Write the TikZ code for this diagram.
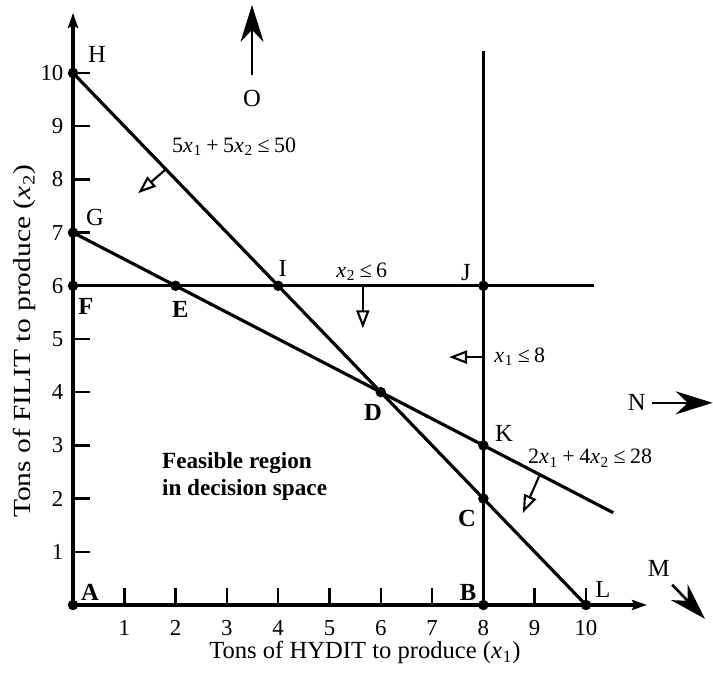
\documentclass[tikz,border=0pt]{standalone}
\usepackage{fontspec}
\setmainfont{Liberation Serif}
\usepackage{graphicx}
\usetikzlibrary{arrows.meta}
\newcommand\xv[1]{\textit{x}\kern0.03em\textsubscript{#1}}
\newcommand\gsp{\hspace{0.2em}}
\begin{document}
\begin{tikzpicture}[x=1.026cm,y=1.064cm,
  ln/.style={line width=1.8pt},
  dot/.style={circle,fill=black,inner sep=0pt,minimum size=0.21cm},
  lab/.style={font=\fontsize{14}{16}\selectfont,inner sep=0pt},
  blab/.style={font=\fontsize{14}{16}\selectfont\bfseries,inner sep=0pt},
  tick/.style={font=\fontsize{13}{15}\selectfont,inner sep=0pt},
  con/.style={font=\fontsize{12.5}{15}\selectfont,inner sep=0pt},
  opn/.style={line width=1.2pt,-{Triangle[open,length=0.36cm,width=0.26cm,line width=1.2pt]}},
  dirarr/.style={line width=1.5pt,-{Stealth[length=0.74cm,width=0.46cm,inset=0.24cm]}},
  axarr/.style={line width=1.8pt,-{Stealth[length=0.3cm,width=0.2cm,inset=0.05cm]}}
]
\useasboundingbox (-1.423,-1.316) rectangle (12.476,11.372);
% points
\node[dot] (A) at (0,0) {};
\node[dot] (B) at (8,0) {};
\node[dot] (C) at (8,2) {};
\node[dot] (D) at (6,4) {};
\node[dot] (E) at (2,6) {};
\node[dot] (F) at (0,6) {};
\node[dot] (G) at (0,7) {};
\node[dot] (H) at (0,10) {};
\node[dot] (I) at (4,6) {};
\node[dot] (J) at (8,6) {};
\node[dot] (K) at (8,3) {};
\node[dot] (L) at (10,0) {};
% axes
\coordinate (xend) at (11.19,0);
\coordinate (yend) at (0,11.13);
\draw[axarr] (A.center) -- (xend);
\draw[axarr] (A.center) -- (yend);
\foreach \i in {1,...,10} {
  \draw[line width=1.4pt] (\i,0) -- (\i,0.32);
  \node[tick] (tx\i) at (\i,-0.43) {\i};
  \draw[line width=1.4pt] (0,\i) -- (0.33,\i);
  \node[tick,anchor=east] (ty\i) at (-0.18,\i) {\i};
}
% constraint lines
\coordinate (Gend) at (10.53,1.735);
\coordinate (Fend) at (10.16,6);
\coordinate (Btop) at (8,10.41);
\draw[ln] (H.center) -- (L.center);
\draw[ln] (G.center) -- (Gend);
\draw[ln] (F.center) -- (Fend);
\draw[ln] (B.center) -- (Btop);
% point labels
\node[lab]  (lH) at (0.47,10.34) {H};
\node[lab]  (lG) at (0.43,7.29) {G};
\node[blab] (lF) at (0.25,5.62) {F};
\node[blab] (lE) at (2.09,5.55) {E};
\node[lab]  (lI) at (4.09,6.32) {I};
\node[lab]  (lJ) at (7.66,6.24) {J};
\node[blab] (lD) at (5.85,3.61) {D};
\node[lab]  (lK) at (8.40,3.23) {K};
\node[blab] (lC) at (7.68,1.62) {C};
\node[blab] (lB) at (7.70,0.23) {B};
\node[lab]  (lL) at (10.33,0.30) {L};
\node[blab] (lA) at (0.33,0.24) {A};
% constraint labels and arrows
\node[con] (c1) at (3.14,8.61) {5\xv1\gsp+\gsp5\xv2\gsp≤\gsp50};
\node[con] (c2) at (5.63,6.26) {\xv2\gsp≤\gsp6};
\node[con] (c3) at (8.71,4.66) {\xv1\gsp≤\gsp8};
\node[con] (c4) at (10.08,2.76) {2\xv1\gsp+\gsp4\xv2\gsp≤\gsp28};
\coordinate (a1s) at (1.81,8.19); \coordinate (a1e) at (1.27,7.74);
\coordinate (a2s) at (5.65,6);    \coordinate (a2e) at (5.65,5.2);
\coordinate (a3s) at (8,4.66);    \coordinate (a3e) at (7.33,4.66);
\coordinate (a4s) at (9.10,2.45); \coordinate (a4e) at (8.77,1.73);
\draw[opn] (a1s) -- (a1e);
\draw[opn] (a2s) -- (a2e);
\draw[opn] (a3s) -- (a3e);
\draw[opn] (a4s) -- (a4e);
% direction arrows
\node[lab] (lO) at (3.49,9.53) {O};
\coordinate (Os) at (3.49,9.96); \coordinate (Oe) at (3.49,11.28);
\draw[dirarr] (Os) -- (Oe);
\node[lab] (lN) at (10.99,3.80) {N};
\coordinate (Ns) at (11.29,3.80); \coordinate (Ne) at (12.47,3.80);
\draw[dirarr] (Ns) -- (Ne);
\node[lab] (lM) at (11.42,0.68) {M};
\coordinate (Ms) at (11.68,0.38); \coordinate (Me) at (12.32,-0.26);
\draw[dirarr] (Ms) -- (Me);
% region text
\node[font=\fontsize{13.2}{15.3}\selectfont\bfseries,align=left,anchor=west,inner sep=0pt] (fr) at (1.73,2.42) {Feasible region\\in decision space};
% axis labels
\node[font=\fontsize{14}{16}\selectfont,inner sep=0pt] (xl) at (5.69,-0.90) {Tons of HYDIT to produce (\xv1)};
\node[font=\fontsize{14}{16}\selectfont,inner sep=0pt,rotate=90] (yl) at (-0.94,4.96) {\scalebox{1.2}[1]{Tons of FILIT to produce (\xv2)}};
\end{tikzpicture}
\end{document}
